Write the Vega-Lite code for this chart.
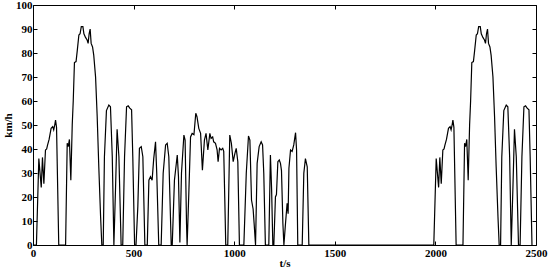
{
  "$schema": "https://vega.github.io/schema/vega-lite/v6.json",
  "width": 503,
  "height": 240,
  "autosize": "none",
  "padding": {"left": 33, "top": 5, "right": 14, "bottom": 24},
  "background": "white",
  "config": {
    "view": {"stroke": "black", "strokeWidth": 1},
    "font": "Liberation Serif",
    "axis": {"labelFont": "Times New Roman, Liberation Serif, serif", "titleFont": "Times New Roman, Liberation Serif, serif", "labelFontWeight": "bold", "titleFontWeight": "bold", "labelFontSize": 11, "titleFontSize": 11, "labelColor": "black", "titleColor": "black", "tickColor": "black", "domain": false, "grid": false, "format": "d", "labelFlush": false, "labelOverlap": false}
  },
  "data": {"values": [
    {"t":0,"v":0},{"t":17,"v":0},{"t":29,"v":36},{"t":41,"v":24},{"t":47,"v":36.5},{"t":54,"v":25.5},{"t":62,"v":39.6},{"t":68,"v":40},{"t":72,"v":41.5},{"t":80,"v":44},{"t":90,"v":48.6},{"t":98,"v":49.3},{"t":103,"v":48},{"t":108,"v":50},{"t":112,"v":52},{"t":117,"v":49},{"t":128,"v":0},{"t":162,"v":0},{"t":170,"v":42.4},{"t":175,"v":41},{"t":181,"v":44},{"t":188,"v":27},{"t":195,"v":50},{"t":200,"v":60},{"t":206,"v":76},{"t":214,"v":76.4},{"t":220,"v":81},{"t":228,"v":87.5},{"t":234,"v":88},{"t":240,"v":91},{"t":248,"v":91},{"t":253,"v":88},{"t":261,"v":86.5},{"t":269,"v":85.4},{"t":274,"v":84},{"t":279,"v":88},{"t":284,"v":90},{"t":289,"v":84},{"t":296,"v":82.5},{"t":302,"v":79},{"t":311,"v":70},{"t":319,"v":53.5},{"t":327,"v":32.6},{"t":336,"v":11.8},{"t":342,"v":0},{"t":349,"v":0},{"t":355,"v":36.8},{"t":365,"v":56},{"t":377,"v":58.3},{"t":385,"v":57.6},{"t":394,"v":36.8},{"t":402,"v":0},{"t":410,"v":23},{"t":418,"v":48.2},{"t":427,"v":36.8},{"t":438,"v":0},{"t":446,"v":0},{"t":455,"v":36.8},{"t":465,"v":57.6},{"t":473,"v":58},{"t":481,"v":57},{"t":490,"v":56.3},{"t":496,"v":36.8},{"t":505,"v":0},
    {"t":512,"v":0},{"t":521,"v":16},{"t":529,"v":40.3},{"t":538,"v":41},{"t":546,"v":36.8},{"t":556,"v":0},{"t":568,"v":0},{"t":576,"v":27},{"t":584,"v":28.5},{"t":592,"v":27},{"t":600,"v":36},{"t":609,"v":43},{"t":615,"v":30},{"t":625,"v":0},{"t":637,"v":0},{"t":647,"v":29.9},{"t":659,"v":41.7},{"t":667,"v":42.4},{"t":675,"v":36.8},{"t":687,"v":0},{"t":692,"v":0},{"t":703,"v":27},{"t":717,"v":37.5},{"t":723,"v":28.5},{"t":730,"v":1},{"t":738,"v":30},{"t":750,"v":45.8},{"t":756,"v":43.7},{"t":763,"v":9},{"t":766,"v":0},{"t":775,"v":23},{"t":783,"v":45},{"t":791,"v":46.5},{"t":800,"v":46},{"t":809,"v":54.9},{"t":815,"v":53.5},{"t":824,"v":48.6},{"t":833,"v":46.5},{"t":842,"v":31.2},{"t":852,"v":43.7},{"t":860,"v":46.5},{"t":869,"v":39.6},{"t":879,"v":46.5},{"t":885,"v":44.4},{"t":893,"v":45},{"t":898,"v":43},{"t":907,"v":42.4},{"t":915,"v":39.6},{"t":920,"v":34.7},{"t":927,"v":40.3},{"t":935,"v":39.6},{"t":943,"v":40.3},{"t":948,"v":39},{"t":953,"v":20},{"t":958,"v":0},{"t":968,"v":0},{"t":978,"v":45.8},{"t":986,"v":42.4},{"t":995,"v":34.7},{"t":1003,"v":38},{"t":1010,"v":40.3},{"t":1018,"v":34.7},{"t":1026,"v":0},{"t":1048,"v":0},{"t":1060,"v":29.9},{"t":1071,"v":45.4},{"t":1078,"v":43.7},{"t":1086,"v":18.75},{"t":1094,"v":15},{"t":1099,"v":9},{"t":1106,"v":0},{"t":1114,"v":34},{"t":1124,"v":41},{"t":1134,"v":43},{"t":1141,"v":41.7},{"t":1147,"v":29.9},{"t":1155,"v":0},{"t":1172,"v":0},{"t":1180,"v":37.5},{"t":1186,"v":23},{"t":1192,"v":0},{"t":1197,"v":0},{"t":1205,"v":20},{"t":1210,"v":21},{"t":1217,"v":34.7},{"t":1224,"v":35.4},{"t":1230,"v":34},{"t":1235,"v":31},{"t":1242,"v":9},{"t":1247,"v":0},{"t":1255,"v":9},{"t":1263,"v":17.4},{"t":1268,"v":13},{"t":1272,"v":32},{"t":1280,"v":39.6},{"t":1288,"v":39},{"t":1296,"v":41.7},{"t":1305,"v":46.8},{"t":1310,"v":39.6},{"t":1316,"v":0},{"t":1338,"v":0},{"t":1346,"v":29.9},{"t":1354,"v":36},{"t":1363,"v":32.6},{"t":1371,"v":0},
    {"t":1992,"v":0},{"t":2004,"v":36},{"t":2016,"v":24},{"t":2022,"v":36.5},{"t":2029,"v":25.5},{"t":2037,"v":39.6},{"t":2043,"v":40},{"t":2047,"v":41.5},{"t":2055,"v":44},{"t":2065,"v":48.6},{"t":2073,"v":49.3},{"t":2078,"v":48},{"t":2083,"v":50},{"t":2087,"v":52},{"t":2092,"v":49},{"t":2103,"v":0},{"t":2137,"v":0},{"t":2145,"v":42.4},{"t":2150,"v":41},{"t":2156,"v":44},{"t":2163,"v":27},{"t":2170,"v":50},{"t":2175,"v":60},{"t":2181,"v":76},{"t":2189,"v":76.4},{"t":2195,"v":81},{"t":2203,"v":87.5},{"t":2209,"v":88},{"t":2215,"v":91},{"t":2223,"v":91},{"t":2228,"v":88},{"t":2236,"v":86.5},{"t":2244,"v":85.4},{"t":2249,"v":84},{"t":2254,"v":88},{"t":2259,"v":90},{"t":2264,"v":84},{"t":2271,"v":82.5},{"t":2277,"v":79},{"t":2286,"v":70},{"t":2294,"v":53.5},{"t":2302,"v":32.6},{"t":2311,"v":11.8},{"t":2317,"v":0},{"t":2324,"v":0},{"t":2330,"v":36.8},{"t":2340,"v":56},{"t":2352,"v":58.3},{"t":2360,"v":57.6},{"t":2369,"v":36.8},{"t":2377,"v":0},{"t":2385,"v":23},{"t":2393,"v":48.2},{"t":2402,"v":36.8},{"t":2413,"v":0},{"t":2421,"v":0},{"t":2430,"v":36.8},{"t":2440,"v":57.6},{"t":2448,"v":58},{"t":2456,"v":57},{"t":2465,"v":56.3},{"t":2471,"v":36.8},{"t":2480,"v":0}
  ]},
  "layer": [
    {
      "mark": {"type": "line", "color": "black", "strokeWidth": 1.2},
      "encoding": {
        "x": {"field": "t", "type": "quantitative", "scale": {"domain": [0, 2500], "nice": false}, "title": "t/s",
              "axis": {"orient": "bottom", "values": [0, 500, 1000, 1500, 2000, 2500], "format": "d", "labelFlush": false, "tickSize": -4, "labelPadding": 6, "titlePadding": -1}},
        "y": {"field": "v", "type": "quantitative", "scale": {"domain": [0, 100], "nice": false}, "title": "km/h",
              "axis": {"orient": "left", "values": [0, 10, 20, 30, 40, 50, 60, 70, 80, 90, 100], "format": "d", "labelFlush": false, "tickSize": -4, "labelPadding": 5, "titlePadding": 2}}
      }
    },
    {
      "mark": {"type": "line", "opacity": 0},
      "encoding": {
        "x": {"field": "t", "type": "quantitative", "scale": {"domain": [0, 2500], "nice": false},
              "axis": {"orient": "top", "values": [0, 500, 1000, 1500, 2000, 2500], "tickSize": -4, "labels": false, "title": null}},
        "y": {"field": "v", "type": "quantitative", "scale": {"domain": [0, 100], "nice": false},
              "axis": {"orient": "right", "values": [0, 10, 20, 30, 40, 50, 60, 70, 80, 90, 100], "tickSize": -4, "labels": false, "title": null}}
      }
    }
  ],
  "resolve": {"axis": {"x": "independent", "y": "independent"}}
}
